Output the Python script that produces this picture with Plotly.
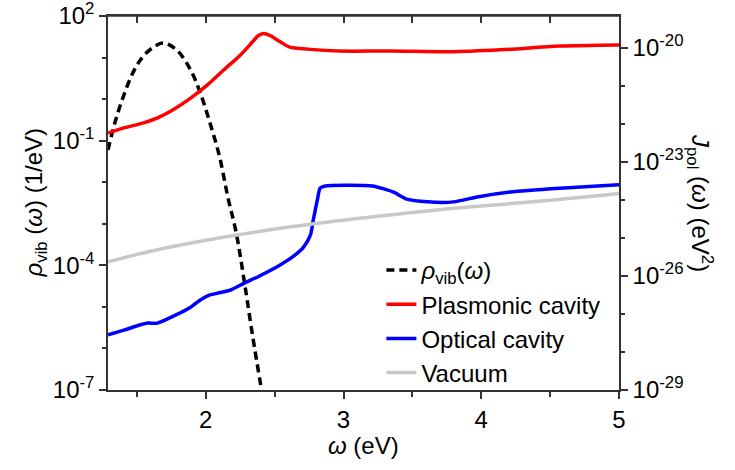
import plotly.graph_objects as go

# ---- data ----
rho_x = [1.29, 1.34, 1.40, 1.47, 1.54, 1.62, 1.69, 1.79, 1.89, 1.96, 2.03, 2.10, 2.16, 2.22, 2.28, 2.34, 2.41]
rho_y = [0.060, 0.27, 1.12, 4.27, 10.2, 17.8, 22.4, 15.1, 5.0, 1.41, 0.27, 0.041, 4.4e-3, 6.3e-4, 4.0e-5, 2.0e-6, 7.9e-8]

plas_x = [1.29, 1.40, 1.52, 1.65, 1.76, 1.89, 2.01, 2.13, 2.25, 2.34, 2.38, 2.42, 2.47, 2.54, 2.61, 2.74, 2.97,
          3.34, 3.77, 4.14, 4.57, 5.00]
plas_y = [5.75e-23, 7.76e-23, 1.0e-22, 1.45e-22, 2.34e-22, 4.79e-22, 1.05e-21, 2.63e-21, 6.46e-21, 1.45e-20,
          2.09e-20, 2.40e-20, 2.09e-20, 1.45e-20, 1.05e-20, 9.3e-21, 8.3e-21, 8.3e-21, 7.9e-21, 8.9e-21, 1.12e-20, 1.2e-20]

opt_x = [1.29, 1.41, 1.52, 1.58, 1.65, 1.78, 1.89, 1.96, 2.03, 2.09, 2.18, 2.28, 2.39, 2.54, 2.63, 2.71, 2.76, 2.78,
         2.81, 2.83, 2.87, 3.00, 3.21, 3.36, 3.46, 3.61, 3.80, 3.97, 4.21, 4.57, 5.00]
opt_y = [2.82e-28, 3.80e-28, 5.13e-28, 5.75e-28, 5.75e-28, 9.3e-28, 1.51e-27, 2.34e-27, 3.16e-27, 3.55e-27, 4.27e-27,
         6.46e-27, 1.0e-26, 1.95e-26, 3.16e-26, 5.75e-26, 1.2e-25, 2.95e-25, 1.0e-24, 2.04e-24, 2.34e-24, 2.45e-24,
         2.34e-24, 1.62e-24, 1.05e-24, 8.9e-25, 8.9e-25, 1.2e-24, 1.62e-24, 2.04e-24, 2.5e-24]

vac_x = [1.29, 1.6, 2.0, 2.4, 2.8, 3.2, 3.6, 4.0, 4.5, 5.0]
vac_y = [2.34e-26, 4.47e-26, 8.7e-26, 1.51e-25, 2.4e-25, 3.55e-25, 5.13e-25, 6.9e-25, 9.8e-25, 1.48e-24]

x_range = [1.29, 5]
x_ticks = [2, 3, 4, 5]
x_minor = [1.5, 2.5, 3.5, 4.5]
left_ticks = [1e2, 1e-1, 1e-4, 1e-7]
left_ticktext = ["10<sup>2</sup>", "10<sup>-1</sup>", "10<sup>-4</sup>", "10<sup>-7</sup>"]
left_minor = [1e1, 1e0, 1e-2, 1e-3, 1e-5, 1e-6]
right_ticks = [1e-20, 1e-23, 1e-26, 1e-29]
right_ticktext = ["10<sup>-20</sup>", "10<sup>-23</sup>", "10<sup>-26</sup>", "10<sup>-29</sup>"]
right_minor = [1e-21, 1e-22, 1e-24, 1e-25, 1e-27, 1e-28]

FONT = "Liberation Sans, Arial, sans-serif"
AX = "#333333"

fig = go.Figure()
fig.add_trace(go.Scatter(x=rho_x, y=rho_y, mode="lines", line=dict(color="black", width=3.5, dash="8px,5px", shape="spline"),
                         name="<i>ρ</i><sub>vib</sub>(<i>ω</i>)", yaxis="y"))
fig.add_trace(go.Scatter(x=plas_x, y=plas_y, mode="lines", line=dict(color="#FF0000", width=3.5, shape="spline", smoothing=0.8),
                         name="Plasmonic cavity", yaxis="y2"))
fig.add_trace(go.Scatter(x=opt_x, y=opt_y, mode="lines", line=dict(color="#0000FF", width=3.5, shape="spline", smoothing=0.6),
                         name="Optical cavity", yaxis="y2"))
fig.add_trace(go.Scatter(x=vac_x, y=vac_y, mode="lines", line=dict(color="#C8C8C8", width=3.5, shape="spline"),
                         name="Vacuum", yaxis="y2"))
# invisible trace to carry the top (inner-tick) axis
fig.add_trace(go.Scatter(x=[2, 3], y=[1, 1], mode="lines", line=dict(width=0), opacity=0,
                         showlegend=False, hoverinfo="skip", xaxis="x2", yaxis="y"))

fig.update_layout(
    width=735, height=470,
    margin=dict(l=108, r=116, t=16, b=80, autoexpand=False),
    paper_bgcolor="white", plot_bgcolor="white",
    font=dict(family=FONT, size=24, color="black"),
    showlegend=True,
    legend=dict(x=0.535, y=0.38, xanchor="left", yanchor="top", bgcolor="rgba(0,0,0,0)",
                font=dict(size=24), tracegroupgap=0, itemwidth=30),
    xaxis=dict(range=x_range, showgrid=False, zeroline=False, showline=True, linecolor=AX, linewidth=1.5,
               automargin=False, ticks="outside", ticklen=7, tickwidth=1.5, tickcolor=AX,
               tickvals=x_ticks, tickfont=dict(size=24),
               minor=dict(tickvals=x_minor, ticks="outside", ticklen=5, tickwidth=1.5, tickcolor=AX)),
    xaxis2=dict(overlaying="x", range=x_range, side="top", anchor="y", showgrid=False, zeroline=False,
                showline=True, linecolor=AX, linewidth=1.5, automargin=False,
                ticks="inside", ticklen=7, tickwidth=1.5, tickcolor=AX, tickvals=x_ticks, showticklabels=False,
                minor=dict(tickvals=x_minor, ticks="inside", ticklen=7, tickwidth=1.5, tickcolor=AX)),
    yaxis=dict(type="log", range=[-7.0005, 2.0005], showgrid=False, zeroline=False, showline=True, linecolor=AX,
               linewidth=1.5, automargin=False, ticks="outside", ticklen=7, tickwidth=1.5, tickcolor=AX,
               ticklabeloverflow="allow",
               tickvals=left_ticks, ticktext=left_ticktext, tickfont=dict(size=24),
               minor=dict(tickvals=left_minor, ticks="outside", ticklen=4, tickwidth=1.5, tickcolor=AX)),
    yaxis2=dict(type="log", range=[-29.0005, -19.16], overlaying="y", side="right", showgrid=False, zeroline=False,
                showline=True, linecolor=AX, linewidth=1.5, ticklabeloverflow="allow", automargin=False,
                ticks="outside", ticklen=7, tickwidth=1.5, tickcolor=AX,
                tickvals=right_ticks, ticktext=right_ticktext, tickfont=dict(size=24),
                minor=dict(tickvals=right_minor, ticks="outside", ticklen=4, tickwidth=1.5, tickcolor=AX)),
    shapes=[dict(type="line", xref="paper", yref="paper", x0=0, x1=1, y0=1, y1=1,
                 line=dict(color=AX, width=1.5))],
    annotations=[
        dict(text="<i>ω</i> (eV)", x=0.5, y=0, xref="paper", yref="paper", yshift=-40, showarrow=False,
             yanchor="top", font=dict(size=24)),
        dict(text="<i>ρ</i><sub>vib</sub> (<i>ω</i>) (1/eV)", x=0, y=0.5, xref="paper", yref="paper", xshift=-56,
             showarrow=False, textangle=-90, xanchor="right", font=dict(size=24)),
        dict(text="<i>J</i><sub>pol</sub> (<i>ω</i>) (eV<sup>2</sup>)", x=1, y=0.5, xref="paper", yref="paper",
             xshift=62, showarrow=False, textangle=90, xanchor="left", font=dict(size=24)),
    ],
)

fig.write_html("out.html", post_script="document.body.style.margin='0';",
               config={"displayModeBar": False})
